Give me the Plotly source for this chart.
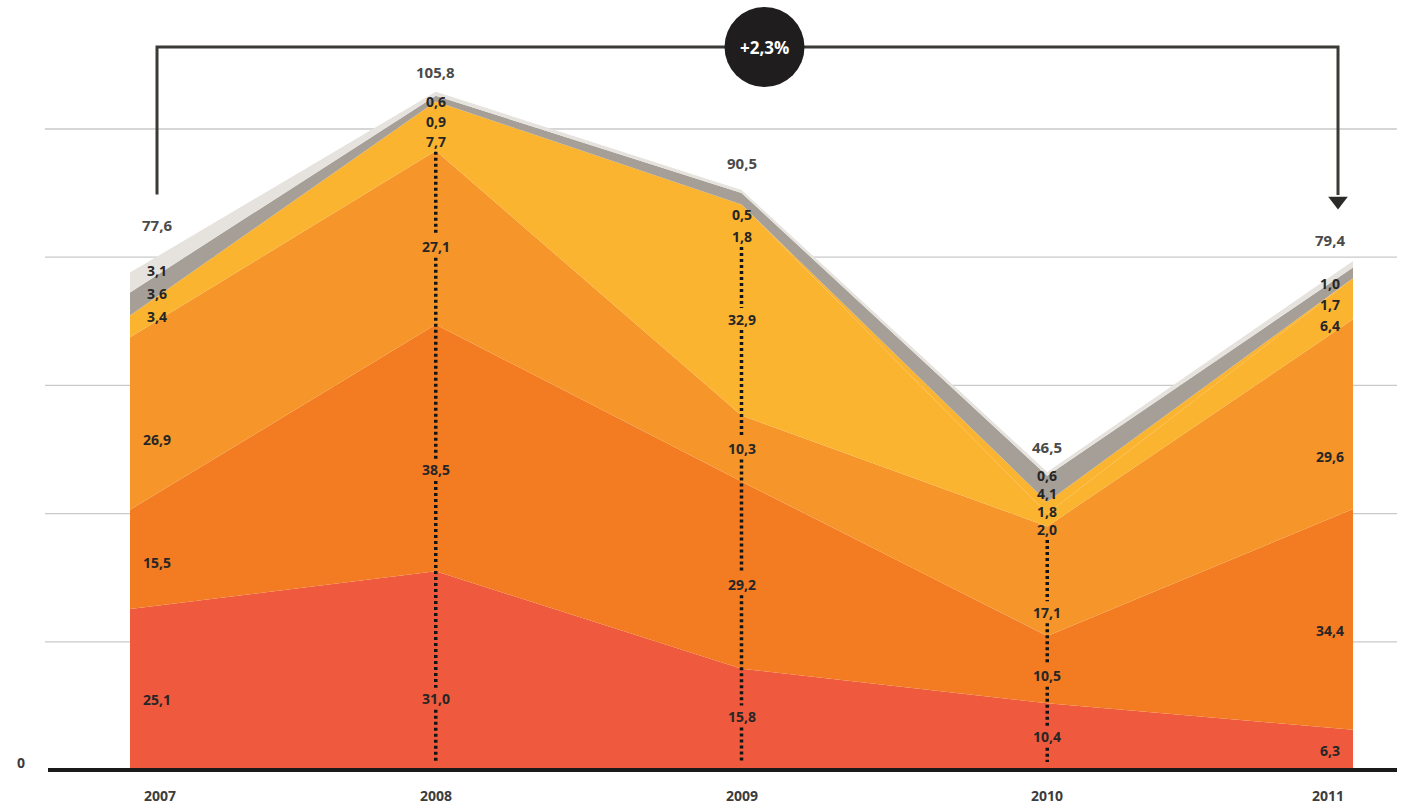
import plotly.graph_objects as go

# ---- data -------------------------------------------------------------
years = [2007, 2008, 2009, 2010, 2011]
year_labels = ["2007", "2008", "2009", "2010", "2011"]

red = [25.1, 31.0, 15.8, 10.4, 6.3]
dark_orange = [15.5, 38.5, 29.2, 10.5, 34.4]
orange = [26.9, 27.1, 10.3, 17.1, 29.6]
yellow = [3.4, 7.7, 32.9, 2.0, 6.4]
yellow_extra = [0.0, 0.0, 0.0, 1.8, 0.0]
gray = [3.6, 0.9, 1.8, 4.1, 1.7]
light_gray = [3.1, 0.6, 0.5, 0.6, 1.0]
totals = [77.6, 105.8, 90.5, 46.5, 79.4]
change_label = "+2,3%"

# ---- styling ----------------------------------------------------------
W, H = 1406, 804
layers = [
    (red, "#EF5A3E"),
    (dark_orange, "#F37C22"),
    (orange, "#F6962A"),
    (yellow, "#FBB430"),
    (yellow_extra, "#FBB430"),
    (gray, "#A59F97"),
    (light_gray, "#E6E3DE"),
]
N_BIG = 3          # the three lower layers are always labelled inside the band
THIN = 8.0         # upper bands thinner than this are listed from the top edge

# axis ranges chosen so the plot fills the whole canvas
X0, X1 = 2006.5748, 2011.1733
Y0, Y1 = -5.30, 120.12
PX_X = W / (X1 - X0)          # pixels per year
PX_Y = H / (Y1 - Y0)          # pixels per unit

# label placement tweaks (pixels, positive = downward)
x_shift = {2007: 27, 2011: -23}
total_gap_px = {2007: 48, 2008: 20, 2009: 27, 2010: 25, 2011: 21}
small_start_px = {2007: -2, 2008: 10, 2009: 25, 2010: 4, 2011: 22}
small_step_px = {2007: 23, 2008: 20, 2009: 22, 2010: 18, 2011: 21}
big_nudge_px = {
    (2007, 0): 10, (2007, 1): 3, (2007, 2): 16,
    (2008, 0): 28, (2008, 1): 22, (2008, 2): 9,
    (2009, 0): -3, (2009, 1): 9, (2009, 2): 0, (2009, 3): 9,
    (2010, 0): 0, (2010, 1): 6, (2010, 2): 31,
    (2011, 0): 1, (2011, 1): 11, (2011, 2): 42,
}


def fmt(v):
    return f"{v:.1f}".replace(".", ",")


def px_to_dy(px):
    return px / PX_Y


fig = go.Figure()

for vals, col in layers:
    fig.add_trace(go.Scatter(
        x=years, y=vals, mode="lines", stackgroup="one",
        line=dict(width=0, color=col), fillcolor=col,
        hoverinfo="skip", showlegend=False,
    ))

annotations = []
label_font = dict(family="Open Sans", size=14, color="#262626")

dot_x, dot_y = [], []

for i, yr in enumerate(years):
    base = 0.0
    top = totals[i]
    small = []
    large = []
    for li, (vals, _) in enumerate(layers):
        v = vals[i]
        if v > 0:
            if li >= N_BIG and v < THIN:
                small.append(v)
            else:
                mid = base + v / 2 - px_to_dy(big_nudge_px.get((yr, li), 0))
                large.append((v, mid))
        base += v
    # thin upper layers: listed downward from the top edge
    small_pos = []
    for k, v in enumerate(reversed(small)):
        y = top - px_to_dy(small_start_px[yr] + small_step_px[yr] * k)
        small_pos.append(y)
        annotations.append(dict(x=yr, y=y, text=f"<b>{fmt(v)}</b>", showarrow=False,
                                xshift=x_shift.get(yr, 0), font=label_font))
    for v, y in large:
        annotations.append(dict(x=yr, y=y, text=f"<b>{fmt(v)}</b>", showarrow=False,
                                xshift=x_shift.get(yr, 0), font=label_font))
    # total above the stack
    annotations.append(dict(x=yr, y=top + px_to_dy(total_gap_px[yr]), text=f"<b>{fmt(top)}</b>",
                            showarrow=False, xshift=x_shift.get(yr, 0),
                            font=dict(family="Open Sans", size=15, color="#4a4a4a")))
    # dotted guide for the middle years, broken around the labels
    if 0 < i < len(years) - 1:
        stops = [min(small_pos) - px_to_dy(10)]
        for v, y in sorted(large, key=lambda t: -t[1]):
            stops.append(y + px_to_dy(11))
            stops.append(y - px_to_dy(11))
        stops.append(px_to_dy(8))
        for a, b in zip(stops[0::2], stops[1::2]):
            dot_x += [yr, yr, None]
            dot_y += [a, b, None]

fig.add_trace(go.Scatter(
    x=dot_x, y=dot_y, mode="lines",
    line=dict(color="#141414", width=3.5, dash="3px,3px"),
    hoverinfo="skip", showlegend=False,
))

# year labels under the axis
year_shift = {2007: 30, 2011: -25}
for i, yr in enumerate(years):
    annotations.append(dict(x=yr, y=-px_to_dy(25), text=f"<b>{year_labels[i]}</b>",
                            showarrow=False, xshift=year_shift.get(yr, 0),
                            font=dict(family="Open Sans", size=14, color="#3c3c3c")))

annotations.append(dict(xref="paper", x=15 / W, y=0, yshift=8, text="<b>0</b>", showarrow=False,
                        font=dict(family="Open Sans", size=14, color="#3c3c3c")))

# bracket comparing first and last year
bx0 = years[0] + 27 / PX_X
bx1 = years[-1] - 15 / PX_X
by = (770 - 47) / PX_Y
fig.add_trace(go.Scatter(
    x=[bx0, bx0, bx1, bx1],
    y=[totals[0] + px_to_dy(78), by, by, totals[-1] + px_to_dy(66)],
    mode="lines", line=dict(color="#3a3a36", width=3),
    hoverinfo="skip", showlegend=False,
))
fig.add_trace(go.Scatter(
    x=[bx1], y=[totals[-1] + px_to_dy(60)], mode="markers",
    marker=dict(symbol="triangle-down", size=17, color="#2a2a28"),
    hoverinfo="skip", showlegend=False,
))

shapes = []
for g in [20, 40, 60, 80, 100]:
    shapes.append(dict(type="line", xref="paper", yref="y", x0=45 / W, x1=1397 / W, y0=g, y1=g,
                       line=dict(color="#c9c9c9", width=1.3), layer="below"))
shapes.append(dict(type="line", xref="paper", yref="y", x0=48 / W, x1=1397 / W, y0=0, y1=0,
                   line=dict(color="#1a1a1a", width=4), layer="above"))
cx = 2009 + 23 / PX_X
shapes.append(dict(type="circle", xref="x", yref="y", xsizemode="pixel", ysizemode="pixel",
                   xanchor=cx, yanchor=by, x0=-40, x1=40, y0=-40, y1=40,
                   fillcolor="#1f1d1d", line=dict(width=0), layer="above"))
annotations.append(dict(x=cx, y=by, text=f"<b>{change_label}</b>", showarrow=False,
                        font=dict(family="Open Sans", size=17, color="white")))

fig.update_layout(
    width=W, height=H,
    margin=dict(l=0, r=0, t=0, b=0),
    paper_bgcolor="white", plot_bgcolor="white",
    xaxis=dict(range=[X0, X1], visible=False, fixedrange=True),
    yaxis=dict(range=[Y0, Y1], visible=False, fixedrange=True),
    shapes=shapes, annotations=annotations,
    showlegend=False,
)

fig.write_html("out.html")
